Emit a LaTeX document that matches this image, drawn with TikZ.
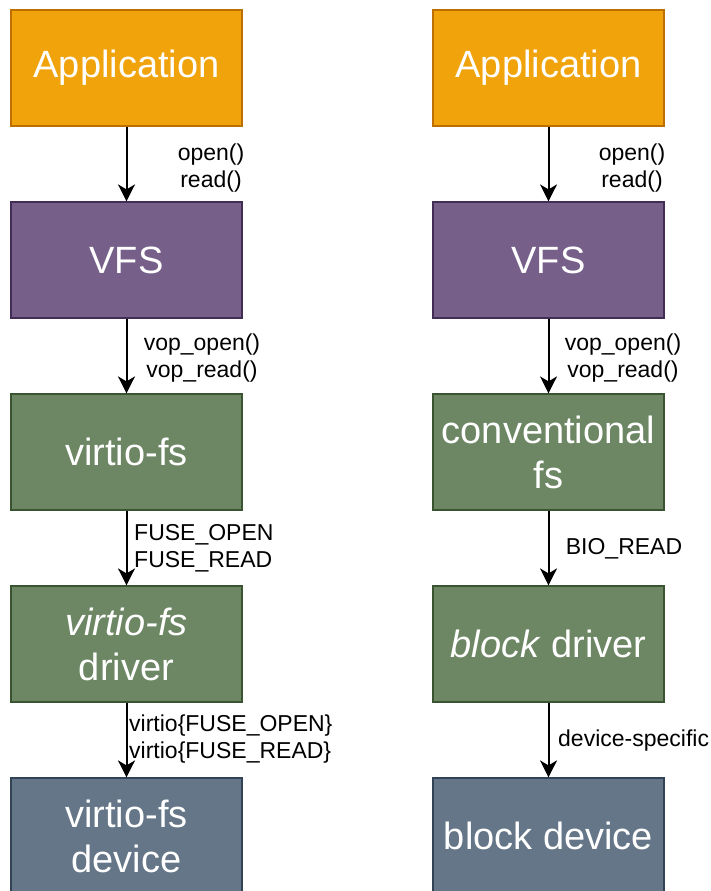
\documentclass[tikz,border=0pt]{standalone}
\usepackage{fontspec}
\setmainfont{Liberation Sans}
\usetikzlibrary{arrows.meta}
\definecolor{appfill}{HTML}{F0A30A}\definecolor{appline}{HTML}{BD7000}
\definecolor{vfsfill}{HTML}{76608A}\definecolor{vfsline}{HTML}{432D57}
\definecolor{fsfill}{HTML}{6D8764}\definecolor{fsline}{HTML}{3A5431}
\definecolor{devfill}{HTML}{647687}\definecolor{devline}{HTML}{314354}
\begin{document}
\begin{tikzpicture}[x=1pt,y=-1pt,
  box/.style={draw, line width=1.2pt, minimum width=231pt, minimum height=116pt,
    text=white, font=\fontsize{38}{45}\selectfont, align=center, inner sep=0pt},
  appbox/.style={box, fill=appfill, draw=appline},
  vfsbox/.style={box, fill=vfsfill, draw=vfsline},
  fsbox/.style={box, fill=fsfill, draw=fsline},
  devbox/.style={box, fill=devfill, draw=devline},
  lbl/.style={font=\fontsize{23}{26.5}\selectfont, inner sep=0pt, align=center},
  arr/.style={line width=2pt, -{Stealth[length=17pt, width=17pt, inset=5pt]}}
]
\useasboundingbox (0,0) rectangle (711,891);
\clip (0,0) rectangle (711,891);
% left column
\node[appbox] (la) at (126.5,68) {Application};
\node[vfsbox] (lv) at (126.5,260) {VFS};
\node[fsbox] (lf) at (126.5,452) {virtio-fs};
\node[fsbox] (ld) at (126.5,644) {\textit{virtio-fs}\\driver};
\node[devbox] (le) at (126.5,836) {virtio-fs\\device};
% right column
\node[appbox] (ra) at (548.5,68) {Application};
\node[vfsbox] (rv) at (548.5,260) {VFS};
\node[fsbox] (rf) at (548.5,452) {conventional\\fs};
\node[fsbox] (rd) at (548.5,644) {\textit{block} driver};
\node[devbox] (re) at (548.5,836) {block device};
% arrows
\draw[arr] (la.south) -- (lv.north);
\draw[arr] (lv.south) -- (lf.north);
\draw[arr] (lf.south) -- (ld.north);
\draw[arr] (ld.south) -- (le.north);
\draw[arr] (ra.south) -- (rv.north);
\draw[arr] (rv.south) -- (rf.north);
\draw[arr] (rf.south) -- (rd.north);
\draw[arr] (rd.south) -- (re.north);
% labels
\node[lbl] (l1) at (211,168) {open()\\read()};
\node[lbl] (l2) at (202,358) {vop\_open()\\vop\_read()};
\node[lbl, align=left, anchor=west] (l3) at (134,548) {FUSE\_OPEN\\FUSE\_READ};
\node[lbl, align=left, anchor=west] (l4) at (129,739) {virtio\{FUSE\_OPEN\}\\virtio\{FUSE\_READ\}};
\node[lbl] (r1) at (632,168) {open()\\read()};
\node[lbl] (r2) at (623,358) {vop\_open()\\vop\_read()};
\node[lbl] (r3) at (624,549) {BIO\_READ};
\node[lbl, anchor=west] (r4) at (558,741) {device-specific};
\end{tikzpicture}
\end{document}
